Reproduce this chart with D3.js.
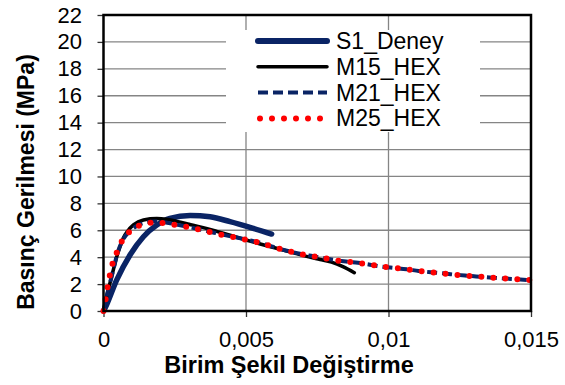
<!DOCTYPE html>
<html>
<head>
<meta charset="utf-8">
<script src="https://cdn.jsdelivr.net/npm/d3@7/dist/d3.min.js"></script>
<style>
  html, body { margin: 0; padding: 0; background: #fff; }
  svg { display: block; }
  text { font-family: "Liberation Sans", Arial, sans-serif; fill: #000; }
</style>
</head>
<body>
<svg id="chart" width="565" height="385"></svg>
<script>
// Strain (x) and compressive stress in MPa (y) for each series
const s1Strain = [0, 0.00005, 0.00046, 0.00093, 0.0014, 0.00187, 0.00233, 0.00304, 0.00374, 0.00444, 0.00514, 0.0059];
const s1Stress = [0, 0.2, 2.3, 4.16, 5.52, 6.39, 6.89, 7.1, 7.0, 6.64, 6.22, 5.72];

const m15Strain = [0, 0.0001, 0.00023, 0.00035, 0.00046, 0.0006, 0.0007, 0.00085, 0.00105, 0.0014, 0.00187, 0.0022, 0.00257, 0.003, 0.0035, 0.004, 0.0045, 0.005, 0.0055, 0.006, 0.0064, 0.0068, 0.0072, 0.0076, 0.008, 0.0084, 0.0088];
const m15Stress = [0, 1.0, 2.1, 3.1, 4.0, 4.9, 5.45, 5.95, 6.4, 6.77, 6.87, 6.82, 6.66, 6.45, 6.2, 5.9, 5.6, 5.28, 4.98, 4.7, 4.48, 4.25, 4.02, 3.83, 3.63, 3.3, 2.85];

const m21Strain = [0, 0.0001, 0.00023, 0.00035, 0.00049, 0.00067, 0.00096, 0.00134, 0.00177, 0.00219, 0.00261, 0.00304, 0.00347, 0.00388, 0.0043, 0.00472, 0.00515, 0.00556, 0.00597, 0.0064, 0.0068, 0.00722, 0.00766, 0.00809, 0.00851, 0.00893, 0.00935, 0.00977, 0.0102, 0.01064, 0.01106, 0.01148, 0.0119, 0.01233, 0.01278, 0.01321, 0.01364, 0.01408, 0.0145, 0.015];
const m21Stress = [0, 1.0, 2.1, 3.1, 4.3, 5.25, 6.0, 6.5, 6.65, 6.58, 6.4, 6.22, 6.02, 5.82, 5.62, 5.44, 5.24, 5.04, 4.76, 4.5, 4.3, 4.12, 3.96, 3.8, 3.68, 3.58, 3.44, 3.3, 3.2, 3.1, 2.98, 2.88, 2.8, 2.7, 2.62, 2.55, 2.48, 2.41, 2.36, 2.29];

const m25Strain = [0, 0.00008, 0.00015, 0.00023, 0.00033, 0.00049, 0.00067, 0.00096, 0.00134, 0.00177, 0.00219, 0.00261, 0.00304, 0.00347, 0.00388, 0.0043, 0.00472, 0.00515, 0.00556, 0.00597, 0.0064, 0.0068, 0.00722, 0.00766, 0.00809, 0.00851, 0.00893, 0.00935, 0.00977, 0.0102, 0.01064, 0.01106, 0.01148, 0.0119, 0.01233, 0.01278, 0.01321, 0.01364, 0.01408, 0.0145, 0.01493, 0.015];
const m25Stress = [0, 0.94, 1.86, 2.73, 3.62, 4.46, 5.28, 5.97, 6.42, 6.57, 6.52, 6.37, 6.2, 6.0, 5.8, 5.6, 5.43, 5.23, 5.03, 4.74, 4.5, 4.29, 4.11, 3.96, 3.79, 3.67, 3.57, 3.44, 3.3, 3.2, 3.1, 2.98, 2.88, 2.8, 2.7, 2.62, 2.55, 2.48, 2.41, 2.36, 2.3, 2.29];

const seriesNames = ["S1_Deney", "M15_HEX", "M21_HEX", "M25_HEX"];
const xTickValues = [0, 0.005, 0.01, 0.015];
const xTickLabels = ["0", "0,005", "0,01", "0,015"];
const yTickValues = [0, 2, 4, 6, 8, 10, 12, 14, 16, 18, 20, 22];
const xTitle = "Birim Şekil Değiştirme";
const yTitle = "Basınç Gerilmesi (MPa)";

const svg = d3.select("#chart");
const plot = { left: 103.5, top: 15, right: 531, bottom: 311 };

const x = d3.scaleLinear().domain([0, 0.015]).range([plot.left, plot.right]);
const y = d3.scaleLinear().domain([0, 22]).range([plot.bottom, plot.top]);

// Gridlines
const grid = svg.append("g");
grid.selectAll("line.h").data(yTickValues.filter(v => v > 0 && v < 22)).enter()
  .append("line")
  .attr("x1", plot.left).attr("x2", plot.right)
  .attr("y1", d => y(d)).attr("y2", d => y(d))
  .attr("stroke", "#858585").attr("stroke-width", 1.3);
grid.selectAll("line.v").data(xTickValues.filter(v => v > 0 && v < 0.015)).enter()
  .append("line")
  .attr("y1", plot.top).attr("y2", plot.bottom)
  .attr("x1", d => x(d)).attr("x2", d => x(d))
  .attr("stroke", "#858585").attr("stroke-width", 1.3);

// Axes
const yAxis = d3.axisLeft(y).tickValues(yTickValues).tickSize(6).tickPadding(15.5);
const gy = svg.append("g").attr("transform", `translate(${plot.left},0)`).call(yAxis);
const xAxis = d3.axisBottom(x).tickValues(xTickValues)
  .tickFormat((d, i) => xTickLabels[i]).tickSize(6).tickPadding(14.5);
const gx = svg.append("g").attr("transform", `translate(0,${plot.bottom})`).call(xAxis);
[gx, gy].forEach(g => {
  g.select(".domain").remove();
  g.selectAll(".tick line").attr("stroke", "#333").attr("stroke-width", 1.3);
  g.selectAll(".tick text").attr("font-size", 22).attr("font-family", "Liberation Sans, Arial, sans-serif").attr("fill", "#000");
});

// Legend background hides the gridlines behind it
svg.append("rect")
  .attr("x", 226).attr("y", 30).attr("width", 254).attr("height", 102)
  .attr("fill", "#fff");

// Curves
const styles = [
  { color: "#0a2465", width: 5.5, dash: null, cap: "round" },
  { color: "#000000", width: 3.5, dash: null, cap: "round" },
  { color: "#0a2465", width: 4, dash: "10 5", cap: "butt" },
  { color: "#ff0000", width: 6, dash: "0 12", cap: "round" }
];
const data = [
  s1Strain.map((v, i) => [v, s1Stress[i]]),
  m15Strain.map((v, i) => [v, m15Stress[i]]),
  m21Strain.map((v, i) => [v, m21Stress[i]]),
  m25Strain.map((v, i) => [v, m25Stress[i]])
];
const line = d3.line().x(d => x(d[0])).y(d => y(d[1])).curve(d3.curveMonotoneX);

data.forEach((pts, i) => {
  const st = styles[i];
  svg.append("path")
    .attr("d", line(pts))
    .attr("fill", "none")
    .attr("stroke", st.color)
    .attr("stroke-width", st.width)
    .attr("stroke-linecap", st.cap)
    .attr("stroke-linejoin", "round")
    .attr("stroke-dasharray", st.dash);
});

// Plot border
svg.append("rect")
  .attr("x", plot.left).attr("y", plot.top)
  .attr("width", plot.right - plot.left).attr("height", plot.bottom - plot.top)
  .attr("fill", "none").attr("stroke", "#000").attr("stroke-width", 2.5);

// Legend entries
const legendRows = [41, 66.8, 92.6, 118.4];
seriesNames.forEach((name, i) => {
  const st = styles[i];
  const ly = legendRows[i];
  svg.append("line")
    .attr("x1", i === 3 ? 260 : 258).attr("x2", 327)
    .attr("y1", ly).attr("y2", ly)
    .attr("stroke", st.color)
    .attr("stroke-width", i === 0 ? 6 : st.width)
    .attr("stroke-linecap", st.cap)
    .attr("stroke-dasharray", st.dash);
  svg.append("text")
    .attr("x", 336).attr("y", ly + 8)
    .attr("font-size", 23)
    .text(name);
});

// Axis titles
svg.append("text")
  .attr("x", 289).attr("y", 373)
  .attr("text-anchor", "middle")
  .attr("font-size", 23.5).attr("font-weight", "bold")
  .text(xTitle);
svg.append("text")
  .attr("transform", "translate(33.5,182) rotate(-90)")
  .attr("text-anchor", "middle")
  .attr("font-size", 23).attr("font-weight", "bold")
  .text(yTitle);
</script>
</body>
</html>
